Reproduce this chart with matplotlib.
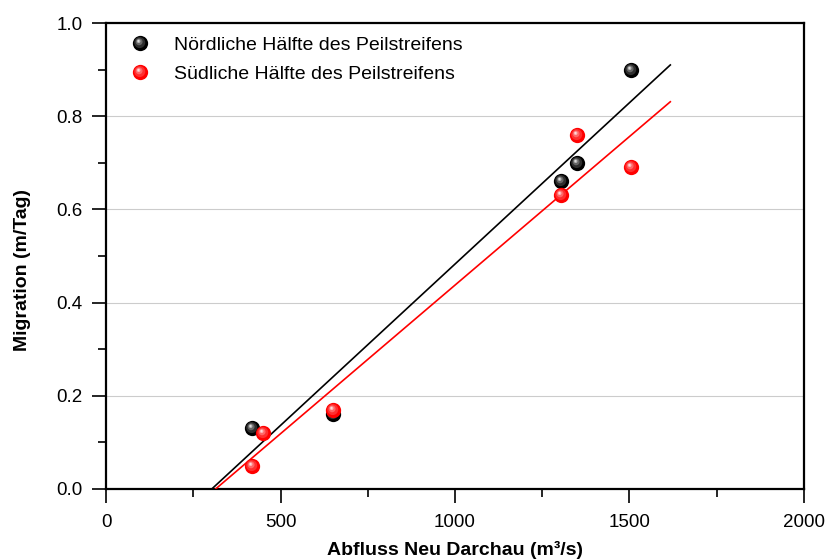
import matplotlib
matplotlib.use("Agg")
import matplotlib.pyplot as plt
import numpy as np
from matplotlib.path import Path
from matplotlib.markers import MarkerStyle
from matplotlib.legend_handler import HandlerTuple
from matplotlib.ticker import MultipleLocator

plt.rcParams['font.family'] = ['Liberation Sans', 'DejaVu Sans']

# Measurements: discharge (m^3/s) and migration (m/day)
north_q = [417, 649, 1303, 1351, 1503]
north_m = [0.13, 0.16, 0.66, 0.70, 0.90]
south_q = [417, 449, 649, 1303, 1351, 1503]
south_m = [0.05, 0.12, 0.17, 0.63, 0.76, 0.69]

# Linear regression lines (start/end points)
north_fit_q = [303, 1617]
north_fit_m = [0.0, 0.910]
south_fit_q = [314, 1617]
south_fit_m = [0.0, 0.831]

labels = ['Nördliche Hälfte des Peilstreifens', 'Südliche Hälfte des Peilstreifens']


def spot_marker(cx, cy, r):
    """Circle marker offset inside the unit box, so that it keeps its place
    relative to a standard 'o' marker of the same size."""
    circ = Path.circle((cx, cy), r)
    box = Path([(-1, -1), (1, 1)], [Path.MOVETO, Path.MOVETO])
    return MarkerStyle(Path.make_compound_path(box, circ))


# layers of a shaded sphere: (marker, colour factor toward white)
layers = [
    (spot_marker(-0.10, 0.12, 0.72), 0.18),
    (spot_marker(-0.18, 0.22, 0.45), 0.40),
    (spot_marker(-0.24, 0.30, 0.24), 0.70),
    (spot_marker(-0.26, 0.33, 0.10), 0.92),
]


def lighten(rgb, f):
    rgb = np.array(matplotlib.colors.to_rgb(rgb))
    return tuple(rgb + (1 - rgb) * f)


def sphere(ax, x, y, color, ms, z):
    handles = []
    h, = ax.plot(x, y, ls='none', marker='o', ms=ms, mfc=color, mew=0, zorder=z)
    handles.append(h)
    for i, (mk, f) in enumerate(layers):
        h, = ax.plot(x, y, ls='none', marker=mk, ms=ms, mfc=lighten(color, f),
                     mew=0, zorder=z + 0.01 * (i + 1))
        handles.append(h)
    return tuple(handles)


fig = plt.figure(figsize=(8.29, 5.6), dpi=100)
ax = fig.add_axes([0.1279, 0.1268, 0.8419, 0.8321])

ax.set_xlim(0, 2000)
ax.set_ylim(0, 1.0)

ax.yaxis.grid(True, color='#cccccc', lw=0.8)
ax.set_axisbelow(True)

ax.plot(north_fit_q, north_fit_m, color='black', lw=1.2, zorder=3)
ax.plot(south_fit_q, south_fit_m, color='#ff0000', lw=1.2, zorder=3)

h_north = sphere(ax, north_q, north_m, '#000000', 11, 4)
h_south = sphere(ax, south_q, south_m, '#ff0000', 11, 5)

ax.xaxis.set_major_locator(MultipleLocator(500))
ax.xaxis.set_minor_locator(MultipleLocator(250))
ax.yaxis.set_major_locator(MultipleLocator(0.2))
ax.yaxis.set_minor_locator(MultipleLocator(0.1))
ax.yaxis.set_major_formatter(matplotlib.ticker.FormatStrFormatter('%.1f'))

ax.tick_params(which='major', direction='out', length=10, width=1.2,
               labelsize=13.5, top=False, right=False)
ax.tick_params(axis='x', which='major', pad=8)
ax.tick_params(axis='y', which='major', pad=7)
ax.tick_params(which='minor', direction='out', length=5.5, width=1.2,
               top=False, right=False)
for s in ax.spines.values():
    s.set_linewidth(1.6)

ax.set_xlabel('Abfluss Neu Darchau (m³/s)', fontsize=14, fontweight='bold',
              labelpad=7)
ax.set_ylabel('Migration (m/Tag)', fontsize=14, fontweight='bold')
ax.yaxis.set_label_coords(-0.107, 0.47)

ax.legend([h_north, h_south], labels,
          handler_map={tuple: HandlerTuple(ndivide=1)},
          loc='upper left', bbox_to_anchor=(0.006, 1.005), frameon=False,
          fontsize=14, handlelength=1.5, handletextpad=1.0,
          labelspacing=0.6, borderaxespad=0.4)

fig.savefig('out.png', dpi=100)
